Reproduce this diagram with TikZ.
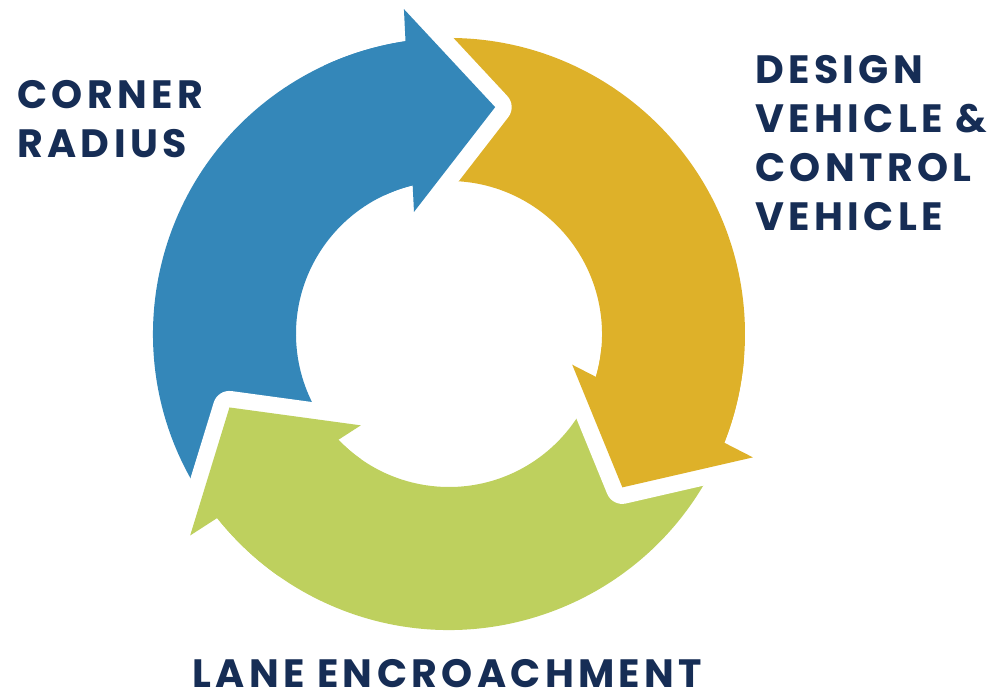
\documentclass[tikz,border=0pt]{standalone}
\usepackage{fontspec}
\newfontfamily\lblfont{Poppins}[LetterSpace=11]
\definecolor{cycblue}{RGB}{52,135,185}
\definecolor{cycyellow}{RGB}{222,177,41}
\definecolor{cycgreen}{RGB}{190,208,94}
\definecolor{navytext}{RGB}{22,45,85}
\newcommand{\Rout}{5.92}
\newcommand{\Rin}{3.06}
\tikzset{
  lbl/.style={font=\lblfont\bfseries\fontsize{22.5}{27.9}\selectfont, text=navytext,
              align=left, inner sep=0pt},
  gapline/.style={draw=white, line width=0.66cm, line join=round},
}

\begin{document}
\begin{tikzpicture}
  \useasboundingbox (-8.98,-7.16) rectangle (10.90,6.68);

  % arrow bodies, each one third of the ring
  \foreach \a/\col in {0/cycblue, -120/cycyellow, 120/cycgreen}{
    \fill[\col] ({\a+215}:\Rout) arc[start angle=\a+215, end angle=\a+95, radius=\Rout]
      -- ({\a+95}:\Rin) arc[start angle=\a+95, end angle=\a+215, radius=\Rin] -- cycle;
  }
  % heads, with a white gap cut into the next tail
  \foreach \a/\col in {0/cycblue, -120/cycyellow, 120/cycgreen}{
    \draw[gapline] ({\a+97.9}:6.56) -- ({\a+78.5}:4.63) -- ({\a+106}:2.54);
    \fill[\col] ({\a+97.9}:6.56) -- ({\a+78.5}:4.63) -- ({\a+106}:2.54) -- cycle;
    \fill[\col] ({\a+95}:\Rout) arc[start angle=\a+95, end angle=\a+115, radius=\Rout]
      -- ({\a+115}:\Rin) arc[start angle=\a+115, end angle=\a+95, radius=\Rin] -- cycle;
  }

  \node[lbl, anchor=north west] (corner) at (-8.64,5.08) {CORNER\\RADIUS};
  \node[lbl, anchor=north west] (design) at (6.12,5.58) {DESIGN\\VEHICLE \&\\CONTROL\\VEHICLE};
  \node[lbl, anchor=base west] (lane) at (-5.14,-7.07) {LANE ENCROACHMENT};
\end{tikzpicture}
\end{document}
